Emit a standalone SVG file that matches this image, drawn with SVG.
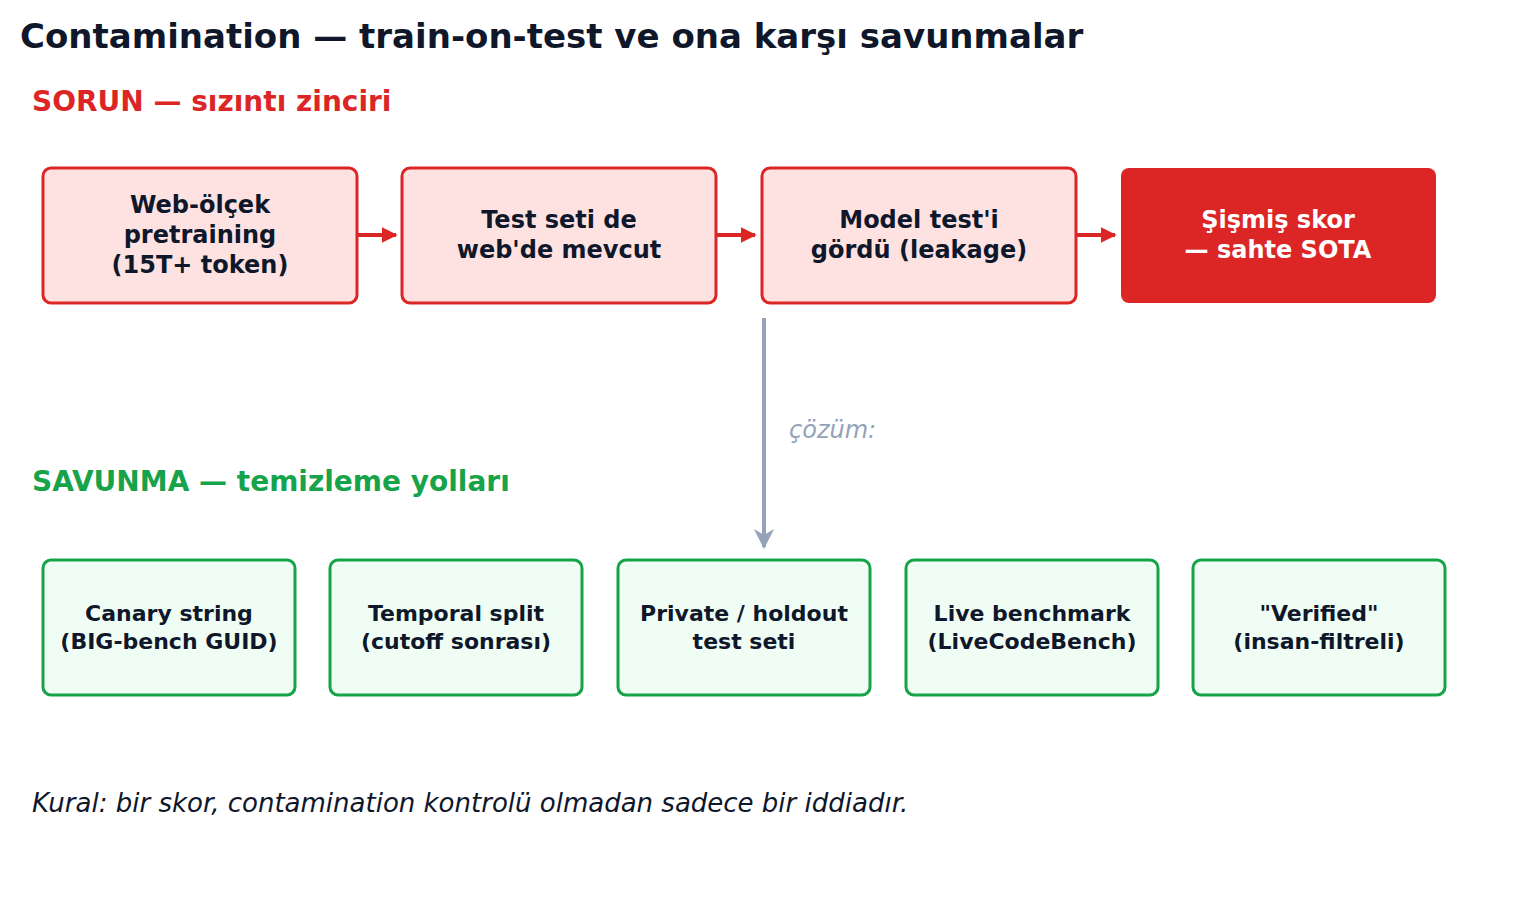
<svg xmlns="http://www.w3.org/2000/svg" width="1528" height="915" viewBox="0 0 1528 915">
<style>
text{font-family:"DejaVu Sans","Liberation Sans",sans-serif}
.t{font-weight:bold;fill:#0f172a;text-anchor:middle}
.p{fill:#fee2e2;stroke:#dc2626;stroke-width:3}
.g{fill:#f0fdf4;stroke:#16a34a;stroke-width:3}
.ra{stroke:#dc2626;stroke-width:4;fill:none;marker-end:url(#mr)}
</style>
<defs>
<marker id="mr" viewBox="0 0 10 10" refX="9" refY="5" markerWidth="4" markerHeight="4" orient="auto"><path d="M0,0L10,5L0,10z" fill="#dc2626"/></marker>
<marker id="mg" viewBox="0 0 10 10" refX="9" refY="5" markerWidth="5" markerHeight="5" orient="auto"><path d="M0,0L10,5L0,10L3,5z" fill="#94a3b8"/></marker>
</defs>
<rect width="1528" height="915" fill="#fff"/>
<text x="20" y="48" font-size="34" font-weight="bold" fill="#0f172a">Contamination — train-on-test ve ona karşı savunmalar</text>
<text x="32" y="111" font-size="28" font-weight="bold" fill="#dc2626">SORUN — sızıntı zinciri</text>
<text x="32" y="491" font-size="28" font-weight="bold" fill="#16a34a">SAVUNMA — temizleme yolları</text>
<g id="p1"><rect class="p" x="43" y="168" width="314" height="135" rx="8"/><text class="t" font-size="24"><tspan x="200" y="213">Web-ölçek</tspan><tspan x="200" y="243">pretraining</tspan><tspan x="200" y="273">(15T+ token)</tspan></text></g>
<g id="p2"><rect class="p" x="402" y="168" width="314" height="135" rx="8"/><text class="t" font-size="24"><tspan x="559" y="228">Test seti de</tspan><tspan x="559" y="258">web'de mevcut</tspan></text></g>
<g id="p3"><rect class="p" x="762" y="168" width="314" height="135" rx="8"/><text class="t" font-size="24"><tspan x="919" y="228">Model test'i</tspan><tspan x="919" y="258">gördü (leakage)</tspan></text></g>
<g id="p4"><rect x="1121" y="168" width="315" height="135" rx="8" fill="#dc2626"/><text class="t" font-size="24" fill="#fff" style="fill:#fff"><tspan x="1278" y="228">Şişmiş skor</tspan><tspan x="1278" y="258">— sahte SOTA</tspan></text></g>
<g id="d1"><rect class="g" x="43" y="560" width="252" height="135" rx="8"/><text class="t" font-size="22"><tspan x="169" y="621">Canary string</tspan><tspan x="169" y="649">(BIG-bench GUID)</tspan></text></g>
<g id="d2"><rect class="g" x="330" y="560" width="252" height="135" rx="8"/><text class="t" font-size="22"><tspan x="456" y="621">Temporal split</tspan><tspan x="456" y="649">(cutoff sonrası)</tspan></text></g>
<g id="d3"><rect class="g" x="618" y="560" width="252" height="135" rx="8"/><text class="t" font-size="22"><tspan x="744" y="621">Private / holdout</tspan><tspan x="744" y="649">test seti</tspan></text></g>
<g id="d4"><rect class="g" x="906" y="560" width="252" height="135" rx="8"/><text class="t" font-size="22"><tspan x="1032" y="621">Live benchmark</tspan><tspan x="1032" y="649">(LiveCodeBench)</tspan></text></g>
<g id="d5"><rect class="g" x="1193" y="560" width="252" height="135" rx="8"/><text class="t" font-size="22"><tspan x="1319" y="621">"Verified"</tspan><tspan x="1319" y="649">(insan-filtreli)</tspan></text></g>
<g id="connectors">
<line class="ra" x1="358" y1="235" x2="396" y2="235"/>
<line class="ra" x1="717" y1="235" x2="755" y2="235"/>
<line class="ra" x1="1077" y1="235" x2="1115" y2="235"/>
<line x1="764" y1="318" x2="764" y2="547" stroke="#94a3b8" stroke-width="4" marker-end="url(#mg)"/>
<text x="789" y="438" font-size="24" font-style="italic" fill="#94a3b8">çözüm:</text>
</g>
<text x="32" y="812" font-size="26" font-style="italic" fill="#0f172a">Kural: bir skor, contamination kontrolü olmadan sadece bir iddiadır.</text>
</svg>
